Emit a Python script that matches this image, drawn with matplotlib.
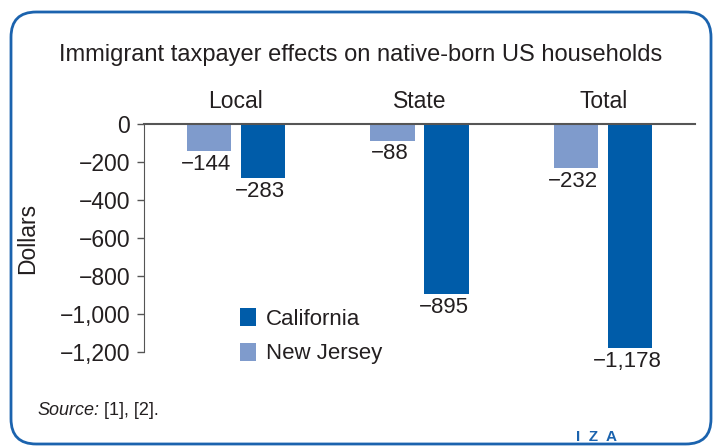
import numpy as np
import matplotlib.pyplot as plt
from matplotlib.patches import FancyBboxPatch
from matplotlib import font_manager

# data
categories = ["Local", "State", "Total"]
california = [-283, -895, -1178]
new_jersey = [-144, -88, -232]
yticks = [0, -200, -400, -600, -800, -1000, -1200]

names = {f.name for f in font_manager.fontManager.ttflist}
fam = "Liberation Sans Narrow" if "Liberation Sans Narrow" in names else "Liberation Sans"
plt.rcParams["font.family"] = [fam, "DejaVu Sans"]

ca_col = "#005ca9"
nj_col = "#7f9bcc"
txt = "#231f20"
frame_col = "#1b63ae"
fs = 16


def fmt(v):
    return f"{v:,}".replace("-", "\u2212")


fig = plt.figure(figsize=(7.19, 4.48), dpi=100)

# rounded border
box = FancyBboxPatch((11/719, 4/448), 700/719, 432/448,
                     boxstyle="round,pad=0,rounding_size=0.035",
                     transform=fig.transFigure, facecolor="white",
                     edgecolor=frame_col, linewidth=2, mutation_aspect=719/448,
                     zorder=-5)
fig.patches.append(box)

ax = fig.add_axes([144/719, 96/448, 551/719, 228/448])
ax.set_facecolor("none")

x = np.arange(len(categories))
w = 0.24
off = 0.147
b_nj = ax.bar(x - off, new_jersey, w, color=nj_col, label="New Jersey")
b_ca = ax.bar(x + off, california, w, color=ca_col, label="California")

for bars, vals in ((b_nj, new_jersey), (b_ca, california)):
    for b, v in zip(bars, vals):
        ax.annotate(fmt(v), (b.get_x() + b.get_width() / 2, v),
                    xytext=(-2, -2), textcoords="offset points",
                    ha="center", va="top", fontsize=fs, color=txt)

ax.set_xlim(-0.5, 2.5)
ax.set_ylim(-1200, 0)
ax.set_yticks(yticks)
ax.set_yticklabels([fmt(v) for v in yticks], fontsize=16.5, color=txt)
ax.tick_params(axis="y", length=5, width=1, color="#555555", pad=5)

ax.xaxis.tick_top()
ax.set_xticks(x)
ax.set_xticklabels(categories, fontsize=16.5, color=txt)
ax.tick_params(axis="x", length=0, pad=8)

for s in ("right", "bottom"):
    ax.spines[s].set_visible(False)
ax.spines["left"].set_color("#555555")
ax.spines["top"].set_color("#555555")
ax.spines["top"].set_linewidth(1.5)
ax.spines["top"].set_zorder(3)

ax.set_ylabel("Dollars", fontsize=16.5, color=txt)
ax.yaxis.set_label_coords(-0.19, 0.5)

fig.text(361/719, 1 - 55/448, "Immigrant taxpayer effects on native-born US households",
         ha="center", va="center", fontsize=17, color=txt)

leg = ax.legend(handles=[b_ca, b_nj], loc="upper left",
                bbox_to_anchor=(96/551, 1 - 184/228), frameon=False,
                fontsize=16, handlelength=0.7, handleheight=0.85,
                handletextpad=0.45, labelspacing=0.6, borderpad=0, borderaxespad=0)
for t in leg.get_texts():
    t.set_color(txt)

src = fig.text(37/719, 1 - 410/448, "Source:", style="italic", fontsize=13,
               color=txt, ha="left", va="center")
ax.annotate(" [1], [2].", xy=(1, 0.5), xycoords=src, ha="left", va="center",
            fontsize=13, color=txt, annotation_clip=False)

fig.text(597/719, 1 - 437/448, "I  Z  A", fontsize=11, color=frame_col,
         ha="center", va="center", fontweight="bold")

fig.savefig("out.png", dpi=100)
